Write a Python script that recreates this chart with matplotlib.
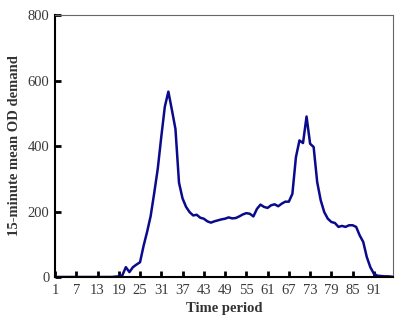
import matplotlib
matplotlib.use("Agg")
import matplotlib.pyplot as plt

# 96 fifteen-minute periods of one day
periods = list(range(1, 97))
demand = [0, 0, 0, 0, 0, 0, 0, 0, 0, 0,
          0, 0, 0, 0, 0, 0, 0, 1, 2, 5,
          30, 15, 30, 38, 45, 95, 138, 186, 256, 330,
          428, 520, 566, 510, 452, 288, 240, 214, 198, 188,
          190, 181, 178, 170, 166, 170, 173, 176, 178, 182,
          179, 180, 185, 191, 195, 193, 185, 208, 221, 214,
          211, 219, 222, 216, 224, 230, 230, 254, 366, 417,
          409, 490, 407, 397, 290, 234, 198, 178, 168, 165,
          153, 156, 153, 158, 158, 153, 127, 107, 61, 30,
          10, 4, 3, 2, 2, 1]
xticks = list(range(1, 96, 6))
yticks = [0, 200, 400, 600, 800]

plt.rcParams['font.family'] = ['Liberation Serif', 'DejaVu Serif']

fig = plt.figure(figsize=(4.15, 3.25), dpi=100)
ax = fig.add_axes([0.1325, 0.1477, 0.8145, 0.8061])
ax.plot(periods, demand, color='#0a0a8c', linewidth=1.8)

ax.set_xlim(1, 96.4)
ax.set_ylim(0, 800)
ax.set_xticks(xticks)
ax.set_yticks(yticks)
ax.tick_params(direction='in', length=4, width=2, color='black',
               labelsize=10.5, labelcolor='#3a3a3a', pad=4)
ax.tick_params(axis='x', pad=5)
for side in ['left', 'bottom']:
    ax.spines[side].set_color('black')
    ax.spines[side].set_linewidth(1.5)
for side in ['top', 'right']:
    ax.spines[side].set_color('#666666')
    ax.spines[side].set_linewidth(0.8)

ax.set_xlabel('Time period', fontsize=10.5, fontweight='bold', color='#333333', labelpad=4)
ax.set_ylabel('15-minute mean OD demand', fontsize=10.5, fontweight='bold', color='#333333', labelpad=5)

fig.savefig('out.png', dpi=100)
